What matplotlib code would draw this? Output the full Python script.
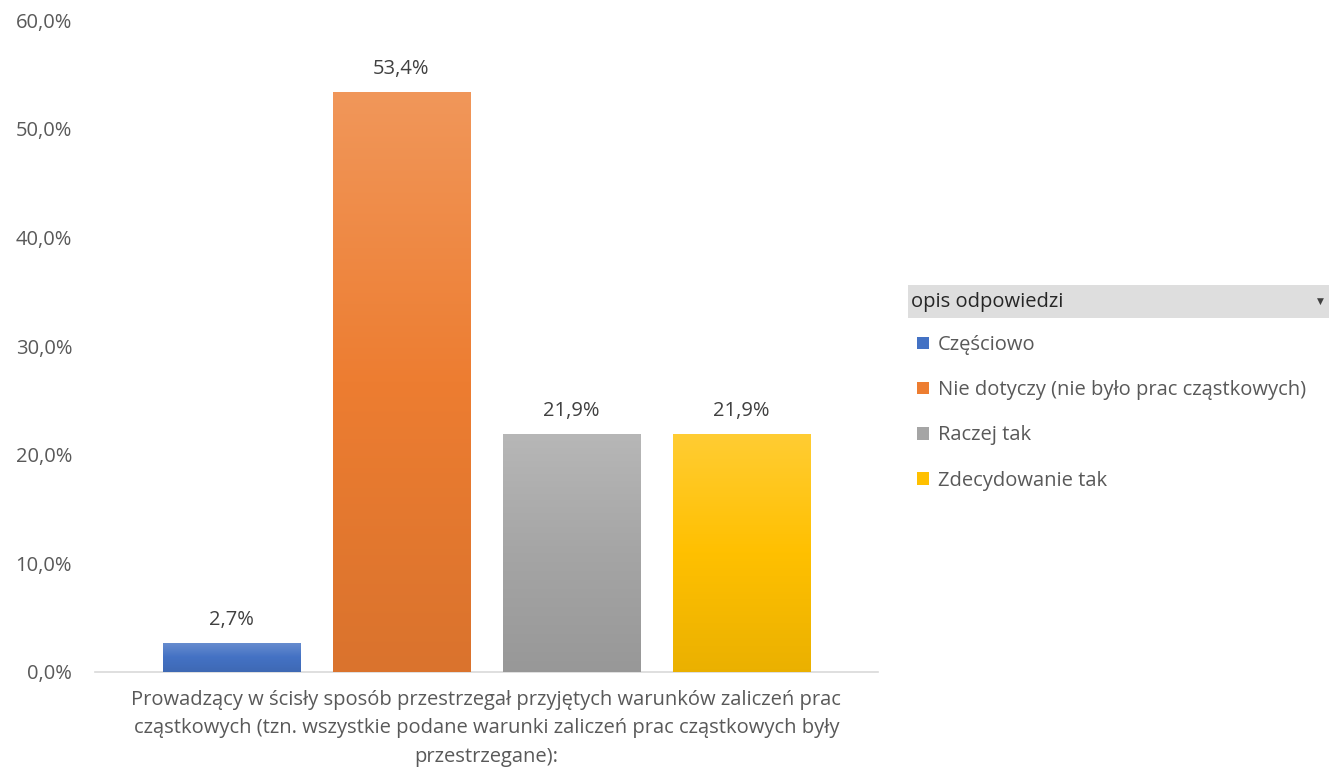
import matplotlib.pyplot as plt
import numpy as np
from matplotlib.colors import LinearSegmentedColormap, to_rgb
from matplotlib.patches import Rectangle, Patch

plt.rcParams['font.family'] = ['Open Sans', 'DejaVu Sans']

# Data
series = ["Częściowo", "Nie dotyczy (nie było prac cząstkowych)", "Raczej tak", "Zdecydowanie tak"]
values = [0.027, 0.534, 0.219, 0.219]
colors = ["#4472C4", "#ED7D31", "#A5A5A5", "#FFC000"]
category = ("Prowadzący w ścisły sposób przestrzegał przyjętych warunków zaliczeń prac\n"
            "cząstkowych (tzn. wszystkie podane warunki zaliczeń prac cząstkowych były\n"
            "przestrzegane):")
legend_title = "opis odpowiedzi"


def shade(c, f):
    r = np.array(to_rgb(c))
    if f > 0:
        return tuple(r + (1 - r) * f)
    return tuple(r * (1 + f))


fig = plt.figure(figsize=(13.29, 7.74), dpi=100)
ax = fig.add_axes([0.0715, 0.1318, 0.589, 0.8422])

x = np.arange(len(series))
bars = ax.bar(x, values, width=0.806, color=colors, zorder=2)

# vertical gradient like the Excel bars
grad = np.linspace(0, 1, 256).reshape(-1, 1)
for bar, c in zip(bars, colors):
    cmap = LinearSegmentedColormap.from_list(
        "g", [shade(c, -0.08), c, shade(c, 0.2)])
    bx, by = bar.get_x(), bar.get_y()
    bw, bh = bar.get_width(), bar.get_height()
    im = ax.imshow(grad, cmap=cmap, aspect="auto", origin="lower",
                   extent=[bx, bx + bw, by, by + bh], zorder=3)
    im.set_clip_path(bar)
    ax.text(bx + bw / 2, bh + 0.012, f"{bh * 100:.1f}%".replace(".", ","),
            ha="center", va="bottom", fontsize=14.5, color="#404040")

ax.set_xlim(-0.8, 3.8)
ax.set_ylim(0, 0.6)
ax.set_yticks(np.arange(0, 0.61, 0.1))
ax.set_yticklabels([f"{v * 100:.1f}%".replace(".", ",") for v in np.arange(0, 0.61, 0.1)])
ax.tick_params(axis="y", length=0, labelsize=14.5, labelcolor="#595959", pad=16.5)
ax.set_xticks([1.5])
ax.set_xticklabels([category], fontsize=14.5, color="#595959", linespacing=1.56)
ax.tick_params(axis="x", length=0, pad=13)
for s in ["top", "right", "left"]:
    ax.spines[s].set_visible(False)
ax.spines["bottom"].set_color("#D9D9D9")
ax.spines["bottom"].set_linewidth(1.2)

# legend header
hdr = Rectangle((908 / 1329, 1 - 318 / 774), 421 / 1329, 33 / 774, transform=fig.transFigure,
                facecolor="#DEDEDE", edgecolor="none")
fig.patches.append(hdr)
fig.text(911 / 1329, 1 - 302 / 774, legend_title, fontsize=14.5, color="#262626", va="center")
fig.text(1320 / 1329, 1 - 301 / 774, "▼", fontsize=6.5, color="#404040", va="center", ha="center",
         family="DejaVu Sans")

handles = [Patch(facecolor=c, edgecolor="none") for c in colors]
fig.legend(handles, series, loc="upper left", bbox_to_anchor=(0.690, 1 - 335 / 774),
           frameon=False, fontsize=14.5, labelcolor="#595959", handlelength=0.6,
           handleheight=0.6, handletextpad=0.45, labelspacing=1.25, borderaxespad=0,
           borderpad=0)

plt.savefig("out.png", dpi=100)
